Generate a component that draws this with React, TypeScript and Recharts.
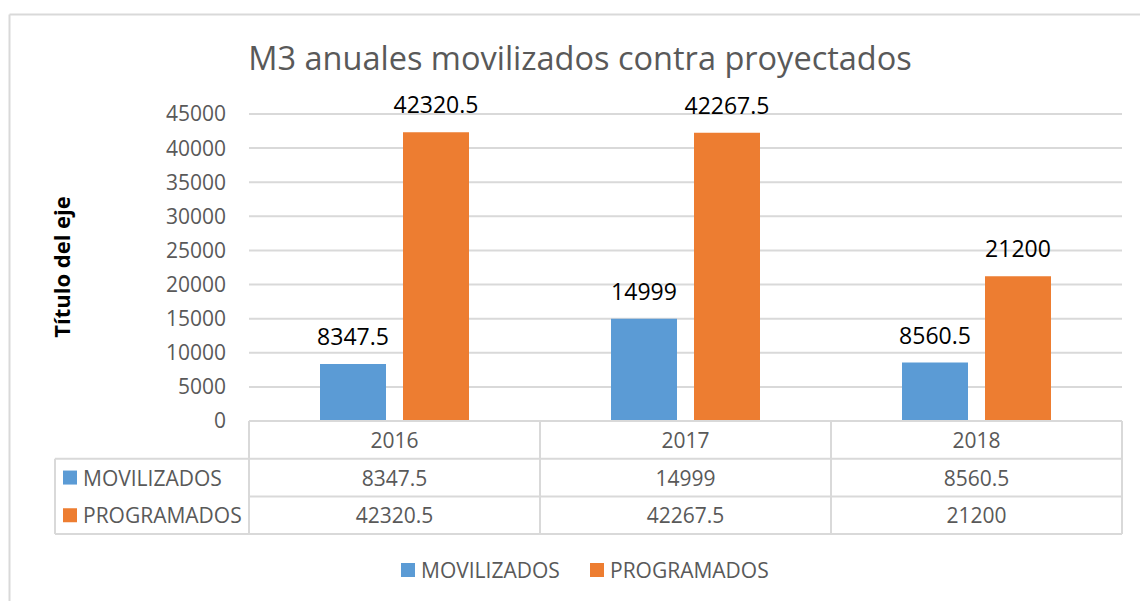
import React from 'react';
import { BarChart, Bar, XAxis, YAxis, CartesianGrid, LabelList, Customized } from 'recharts';

const years = ['2016', '2017', '2018'];
const movilizados = [8347.5, 14999, 8560.5];
const programados = [42320.5, 42267.5, 21200];
const yTicks = [0, 5000, 10000, 15000, 20000, 25000, 30000, 35000, 40000, 45000];
const seriesNames = ['MOVILIZADOS', 'PROGRAMADOS'];
const seriesValues = [movilizados, programados];
const seriesColors = ['#5B9BD5', '#ED7D31'];

const chartTitle = 'M3 anuales movilizados contra proyectados';
const axisTitle = 'Título del eje';

const data = years.map((year, i) => ({
  year,
  MOVILIZADOS: movilizados[i],
  PROGRAMADOS: programados[i],
}));

const FONT = '"Open Sans", sans-serif';
const GRAY = '#595959';
const LINE = '#D9D9D9';
const ROW_H = 37.7;

// draws one column of the data table under each category
function TableTick(props: any) {
  const { x, y, payload, index } = props;
  const half = payload.offset ?? 145.5;
  const left = x - half;
  const right = x + half;
  const bottom = y + ROW_H * 3;
  const labelLeft = left - 194;
  return (
    <g>
      <line x1={left} y1={y} x2={left} y2={bottom} stroke={LINE} strokeWidth={2} />
      <line x1={right} y1={y} x2={right} y2={bottom} stroke={LINE} strokeWidth={2} />
      {[1, 2, 3].map((r) => (
        <line key={r} x1={left} y1={y + ROW_H * r} x2={right} y2={y + ROW_H * r} stroke={LINE} strokeWidth={2} />
      ))}
      <text x={x} y={y + ROW_H / 2} textAnchor="middle" dominantBaseline="central" fill={GRAY} fontSize={21} fontFamily={FONT}>
        {payload.value}
      </text>
      {seriesValues.map((vals, s) => (
        <text key={s} x={x} y={y + ROW_H * (s + 1.5)} textAnchor="middle" dominantBaseline="central" fill={GRAY} fontSize={21} fontFamily={FONT}>
          {vals[index]}
        </text>
      ))}
      {index === 0 && (
        <g>
          <line x1={labelLeft} y1={y + ROW_H} x2={left} y2={y + ROW_H} stroke={LINE} strokeWidth={2} />
          <line x1={labelLeft} y1={bottom} x2={left} y2={bottom} stroke={LINE} strokeWidth={2} />
          <line x1={labelLeft} y1={y + ROW_H} x2={labelLeft} y2={bottom} stroke={LINE} strokeWidth={2} />
          {seriesNames.map((name, s) => (
            <g key={name}>
              <rect x={labelLeft + 8} y={y + ROW_H * (s + 1.5) - 7} width={14} height={14} fill={seriesColors[s]} />
              <text x={labelLeft + 28} y={y + ROW_H * (s + 1.5)} dominantBaseline="central" fill={GRAY} fontSize={21} fontFamily={FONT}>
                {name}
              </text>
            </g>
          ))}
        </g>
      )}
    </g>
  );
}

function Decorations() {
  return (
    <g>
      <line x1={9.5} y1={14.5} x2={1140} y2={14.5} stroke={LINE} strokeWidth={2} />
      <line x1={9.5} y1={14.5} x2={9.5} y2={601} stroke={LINE} strokeWidth={2} />
      <text x={580} y={70} textAnchor="middle" fill={GRAY} fontSize={32.5} fontFamily={FONT}>
        {chartTitle}
      </text>
      <text
        x={61}
        y={267}
        textAnchor="middle"
        dominantBaseline="central"
        fontWeight="bold"
        fill="#000"
        fontSize={22}
        fontFamily={FONT}
        transform="rotate(-90 61 267)"
      >
        {axisTitle}
      </text>
      <g>
        <rect x={401} y={563} width={14} height={14} fill={seriesColors[0]} />
        <text x={421} y={570} dominantBaseline="central" fill={GRAY} fontSize={21} fontFamily={FONT}>
          {seriesNames[0]}
        </text>
        <rect x={590} y={563} width={14} height={14} fill={seriesColors[1]} />
        <text x={610} y={570} dominantBaseline="central" fill={GRAY} fontSize={21} fontFamily={FONT}>
          {seriesNames[1]}
        </text>
      </g>
    </g>
  );
}

export default function App() {
  return (
    <div style={{ position: 'absolute', left: 0, top: 0, width: 1140, height: 601, background: '#fff' }}>
      <BarChart
        width={1140}
        height={601}
        data={data}
        margin={{ top: 114, right: 18, left: 189, bottom: 60 }}
        barGap={17}
      >
        <CartesianGrid vertical={false} stroke={LINE} strokeWidth={2} />
        <YAxis
          width={60}
          domain={[0, 45000]}
          ticks={yTicks}
          axisLine={false}
          tickLine={false}
          tickSize={0}
          tickMargin={23}
          tick={{ fill: GRAY, fontSize: 21, fontFamily: FONT }}
        />
        <XAxis
          dataKey="year"
          height={120}
          interval={0}
          tickSize={0}
          tickMargin={0}
          tickLine={false}
          axisLine={{ stroke: LINE, strokeWidth: 2 }}
          tick={<TableTick />}
        />
        {seriesNames.map((name, s) => (
          <Bar key={name} dataKey={name} fill={seriesColors[s]} barSize={66} isAnimationActive={false}>
            <LabelList dataKey={name} position="top" offset={19} fill="#000" fontSize={23} fontFamily={FONT} />
          </Bar>
        ))}
        <Customized component={<Decorations />} />
      </BarChart>
    </div>
  );
}
